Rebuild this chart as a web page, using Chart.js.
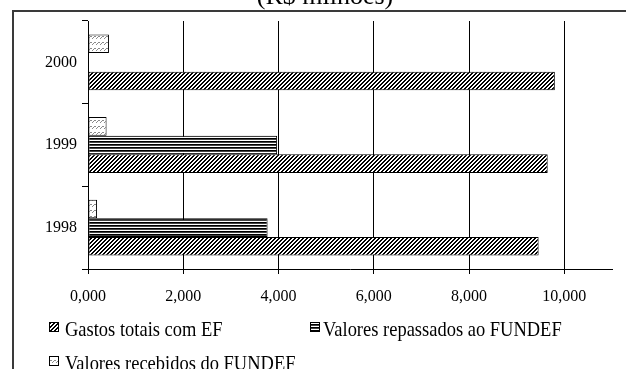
<!DOCTYPE html>
<html>
<head>
<meta charset="utf-8">
<script src="https://cdn.jsdelivr.net/npm/chart.js@4/dist/chart.umd.min.js"></script>
<style>
  html, body { margin: 0; padding: 0; background: #fff; }
  #wrap { width: 626px; height: 369px; position: relative; overflow: hidden; }
</style>
</head>
<body>
<div id="wrap"><canvas id="c" width="626" height="369"></canvas></div>
<script>
// Years on the category axis (bottom to top)
const years = ['1998', '1999', '2000'];
// Values in R$ milhões
const gastosTotais = [9460, 9650, 9800];
const repassadosFundef = [3770, 3970, null];
const recebidosFundef = [190, 390, 440];
// Value axis ticks
const xTicks = [0, 2000, 4000, 6000, 8000, 10000];
const xMax = 11000;
const seriesNames = ['Gastos totais com EF', 'Valores repassados ao FUNDEF', 'Valores recebidos do FUNDEF'];
const chartTitle = '(R$ milhões)';

const SERIF = '"Liberation Serif", "Times New Roman", serif';
Chart.defaults.font.family = SERIF;
Chart.defaults.color = '#000';

// "0,000"-style number mask: at least four digits, comma thousands separator
function fmt(v) {
  const s = String(Math.round(v)).padStart(4, '0');
  return s.replace(/\B(?=(\d{3})+(?!\d))/g, ',');
}

function makeTile(w, h, paint) {
  const c = document.createElement('canvas');
  c.width = w; c.height = h;
  const g = c.getContext('2d');
  g.fillStyle = '#fff';
  g.fillRect(0, 0, w, h);
  paint(g);
  return document.createElement('canvas').getContext('2d').createPattern(c, 'repeat');
}

// Dense forward diagonal hatch
const diagHatch = makeTile(4, 4, g => {
  g.fillStyle = '#000';
  for (let y = 0; y < 4; y++) for (let x = 0; x < 4; x++) {
    if ((x + y) % 4 < 2) g.fillRect(x, y, 1, 1);
  }
});
// Horizontal line fill
const horizLines = makeTile(4, 3, g => {
  g.fillStyle = '#000'; g.fillRect(0, 0, 4, 1);
  g.fillStyle = '#444'; g.fillRect(0, 1, 4, 1);
});
// Light rows of small gray strokes
const lightWave = makeTile(4, 6, g => {
  g.fillStyle = '#8a8a8a';
  g.fillRect(2, 0, 1, 1); g.fillRect(3, 0, 1, 1);
  g.fillRect(1, 1, 1, 1);
  g.fillRect(0, 2, 1, 1);
});

const fills = [diagHatch, horizLines, lightWave];

const decor = {
  id: 'decor',
  beforeDraw(chart) {
    const ctx = chart.ctx;
    ctx.save();
    ctx.fillStyle = '#fff';
    ctx.fillRect(0, 0, chart.width, chart.height);
    // outer frame (left and top edges)
    ctx.fillStyle = '#3a3a3a';
    ctx.fillRect(12, 10, 2, chart.height - 10);
    ctx.fillRect(12, 10, chart.width - 12, 2);
    ctx.restore();
  },
  afterDraw(chart) {
    const ctx = chart.ctx;
    ctx.save();
    ctx.fillStyle = '#000';
    ctx.textBaseline = 'alphabetic';
    // title
    ctx.font = '26px ' + SERIF;
    ctx.textAlign = 'center';
    ctx.fillText(chartTitle, 325, 4);
    // legend
    const items = [
      { box: [49, 322], tx: 65, ty: 336 },
      { box: [310, 322], tx: 323, ty: 336 },
      { box: [49, 356], tx: 65, ty: 370 }
    ];
    ctx.textAlign = 'left';
    ctx.font = '22px ' + SERIF;
    items.forEach((it, i) => {
      ctx.fillStyle = fills[i];
      ctx.fillRect(it.box[0], it.box[1], 10, 10);
      ctx.strokeStyle = '#000';
      ctx.lineWidth = 1;
      ctx.strokeRect(it.box[0] + 0.5, it.box[1] + 0.5, 9, 9);
      ctx.save();
      ctx.translate(it.tx, it.ty);
      ctx.scale(0.84, 1);
      ctx.fillStyle = '#000';
      ctx.fillText(seriesNames[i], 0, 0);
      ctx.restore();
    });
    ctx.restore();
  }
};

new Chart(document.getElementById('c'), {
  type: 'bar',
  data: {
    labels: years,
    datasets: [
      { label: seriesNames[2], data: recebidosFundef, backgroundColor: lightWave },
      { label: seriesNames[1], data: repassadosFundef, backgroundColor: horizLines },
      { label: seriesNames[0], data: gastosTotais, backgroundColor: diagHatch }
    ]
  },
  options: {
    indexAxis: 'y',
    responsive: false,
    animation: false,
    events: [],
    datasets: {
      bar: {
        categoryPercentage: 0.675,
        barPercentage: 1,
        borderColor: '#000',
        borderWidth: 1,
        borderSkipped: false
      }
    },
    layout: { padding: { left: 0, right: 14, top: 21, bottom: 0 } },
    plugins: {
      legend: { display: false },
      title: { display: false },
      tooltip: { enabled: false }
    },
    scales: {
      x: {
        type: 'linear',
        min: 0,
        max: xMax,
        afterBuildTicks: s => { s.ticks = xTicks.map(v => ({ value: v })); },
        afterFit: s => { s.height = 100; },
        grid: { color: '#000', lineWidth: 1, tickLength: 5, drawTicks: true },
        border: { display: true, color: '#000', width: 1 },
        ticks: {
          font: { size: 16, family: SERIF },
          color: '#000',
          padding: 13,
          maxRotation: 0,
          callback: v => fmt(v)
        }
      },
      y: {
        type: 'category',
        reverse: true,
        afterFit: s => { s.width = 88; },
        grid: { offset: true, drawOnChartArea: false, color: '#000', tickLength: 6 },
        border: { display: true, color: '#000', width: 1 },
        ticks: { font: { size: 16, family: SERIF }, color: '#000', padding: 5 }
      }
    }
  },
  plugins: [decor]
});
</script>
</body>
</html>
